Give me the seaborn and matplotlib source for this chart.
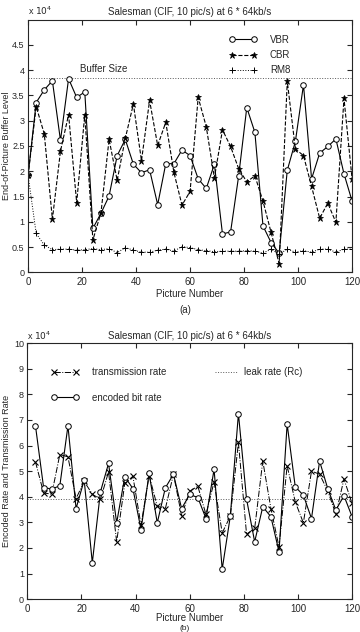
import numpy as np
import pandas as pd
import matplotlib.pyplot as plt
import seaborn as sns

# picture numbers (every third picture)
pic = list(range(0, 121, 3))
pic_b = list(range(3, 121, 3))

# (a) end-of-picture buffer level, x 10^4
vbr = [1.92, 3.36, 3.61, 3.79, 2.61, 3.83, 3.46, 3.57, 0.87, 1.17,
       1.51, 2.31, 2.63, 2.14, 1.97, 2.03, 1.34, 2.15, 2.15, 2.42,
       2.31, 1.85, 1.66, 2.14, 0.76, 0.80, 1.91, 3.26, 2.77, 0.92,
       0.59, 0.38, 2.02, 2.59, 3.71, 1.85, 2.36, 2.49, 2.64, 1.95, 1.41]
cbr = [1.92, 3.28, 2.74, 1.05, 2.40, 3.12, 1.38, 3.12, 0.64, 1.18,
       2.63, 1.82, 2.65, 3.33, 2.21, 3.40, 2.51, 2.97, 1.98, 1.33,
       1.60, 3.46, 2.88, 1.87, 2.82, 2.49, 2.05, 1.79, 1.91, 1.41,
       0.79, 0.17, 3.78, 2.44, 2.31, 1.70, 1.07, 1.37, 0.99, 3.44, 1.85]
rm8 = [1.92, 0.77, 0.54, 0.45, 0.46, 0.46, 0.44, 0.45, 0.47, 0.45,
       0.47, 0.39, 0.49, 0.44, 0.40, 0.40, 0.44, 0.46, 0.42, 0.51,
       0.49, 0.45, 0.43, 0.41, 0.42, 0.42, 0.42, 0.43, 0.42, 0.38,
       0.46, 0.36, 0.46, 0.40, 0.43, 0.40, 0.46, 0.46, 0.40, 0.46, 0.46]
buffer_size = 3.84

# (b) encoded rate and transmission rate, x 10^4
tx_rate = [5.36, 4.15, 4.10, 5.65, 5.56, 3.93, 4.60, 4.10, 3.90, 4.97,
           2.24, 4.52, 4.80, 2.89, 4.83, 3.63, 3.54, 4.88, 3.26, 4.22,
           4.41, 3.31, 4.58, 2.59, 3.24, 6.12, 2.54, 2.76, 5.40, 3.54,
           2.04, 5.21, 3.80, 2.98, 5.00, 4.88, 4.23, 3.32, 4.69, 3.74]
enc_rate = [6.77, 4.36, 4.30, 4.43, 6.77, 3.54, 4.65, 1.42, 4.19, 5.30,
            2.98, 4.78, 4.32, 2.72, 4.91, 2.98, 4.35, 4.88, 3.54, 4.09,
            3.97, 3.15, 5.07, 1.17, 3.24, 7.25, 3.91, 2.24, 3.61, 3.22,
            1.85, 6.84, 4.39, 4.06, 3.15, 5.39, 4.32, 3.48, 4.04, 3.22]
leak_rate = 3.9

title = 'Salesman (CIF, 10 pic/s) at 6 * 64kb/s'

sns.set_style('ticks')
plt.rcParams['font.family'] = ['Liberation Sans', 'DejaVu Sans']
plt.rcParams['font.size'] = 7
plt.rcParams['xtick.direction'] = 'in'
plt.rcParams['ytick.direction'] = 'in'
plt.rcParams['xtick.top'] = True
plt.rcParams['ytick.right'] = True
plt.rcParams['ytick.labelsize'] = 6.5
plt.rcParams['ytick.major.pad'] = 2.5
plt.rcParams['axes.linewidth'] = 0.8

fig = plt.figure(figsize=(3.6, 6.32), dpi=100)
ax1 = fig.add_axes([0.078, 0.569, 0.9, 0.4])
ax2 = fig.add_axes([0.076, 0.052, 0.902, 0.405])

leg_kw = dict(bbox_transform=fig.transFigure, frameon=False, borderpad=0,
              borderaxespad=0, handlelength=2.9, numpoints=2, fontsize=7,
              loc='upper left')

# ---- (a) buffer level
ax1.axhline(buffer_size, color='0.35', ls=':', lw=0.7)
sns.lineplot(x=pic, y=vbr, ax=ax1, color='k', lw=0.8, marker='o', ms=4,
             mfc='white', mec='k', mew=0.7, label='VBR')
sns.lineplot(x=pic, y=cbr, ax=ax1, color='k', lw=0.8, linestyle='--',
             marker='*', ms=5, mfc='k', mec='k', mew=0.5, label='CBR')
sns.lineplot(x=pic, y=rm8, ax=ax1, color='k', lw=0.7, linestyle=':',
             marker='+', ms=5, mec='k', mew=0.7, label='RM8')
ax1.text(28, 4.03, 'Buffer Size', ha='center', va='center', fontsize=7)
ax1.set_xlim(0, 120)
ax1.set_ylim(0, 5)
ax1.set_xticks(range(0, 121, 20))
ax1.set_yticks(np.arange(0, 4.6, 0.5))
ax1.set_yticklabels(['0', '0.5', '1', '1.5', '2', '2.5', '3', '3.5', '4', '4.5'])
ax1.set_xlabel('Picture Number', labelpad=1)
ax1.set_ylabel('End-of-Picture Buffer Level', fontsize=6.5)
ax1.yaxis.set_label_coords(-0.053, 0.5)
ax1.set_title(title, fontsize=7, pad=3)
ax1.legend(bbox_to_anchor=(0.636, 0.945), handletextpad=1.3,
           labelspacing=0.55, **leg_kw)
fig.text(0.078, 0.973, r'x $10^4$', fontsize=6.5, ha='left', va='bottom')
fig.text(0.514, 0.509, '(a)', ha='center', va='center', fontsize=7)

# ---- (b) rates
ax2.axhline(leak_rate, color='0.35', ls=':', lw=0.7)
sns.lineplot(x=pic_b, y=tx_rate, ax=ax2, color='k', lw=0.7, linestyle='-.',
             marker='x', ms=4, mec='k', mew=0.8, label='transmission rate')
sns.lineplot(x=pic_b, y=enc_rate, ax=ax2, color='k', lw=0.8, marker='o',
             ms=4, mfc='white', mec='k', mew=0.7, label='encoded bit rate')
ax2.set_xlim(0, 120)
ax2.set_ylim(0, 10)
ax2.set_xticks(range(0, 121, 20))
ax2.set_yticks(range(0, 11))
ax2.set_xlabel('Picture Number', labelpad=-1)
ax2.set_ylabel('Encoded Rate and Transmission Rate', fontsize=6.5)
ax2.yaxis.set_label_coords(-0.05, 0.5)
ax2.set_title(title, fontsize=7, pad=3)
h, l = ax2.get_legend_handles_labels()
leg = ax2.legend(h, l, bbox_to_anchor=(0.142, 0.419), handletextpad=1.3,
                 labelspacing=1.6, **leg_kw)
ax2.add_artist(leg)
leak_handle = plt.Line2D([], [], color='0.35', ls=':', lw=0.7)
ax2.legend([leak_handle], ['leak rate (Rc)'], bbox_to_anchor=(0.59, 0.419),
           handletextpad=0.4, **leg_kw)
fig.text(0.076, 0.459, r'x $10^4$', fontsize=6.5, ha='left', va='bottom')
fig.text(0.514, 0.0, '(b)', ha='center', va='bottom', fontsize=6)

fig.savefig('out.png', dpi=100)
